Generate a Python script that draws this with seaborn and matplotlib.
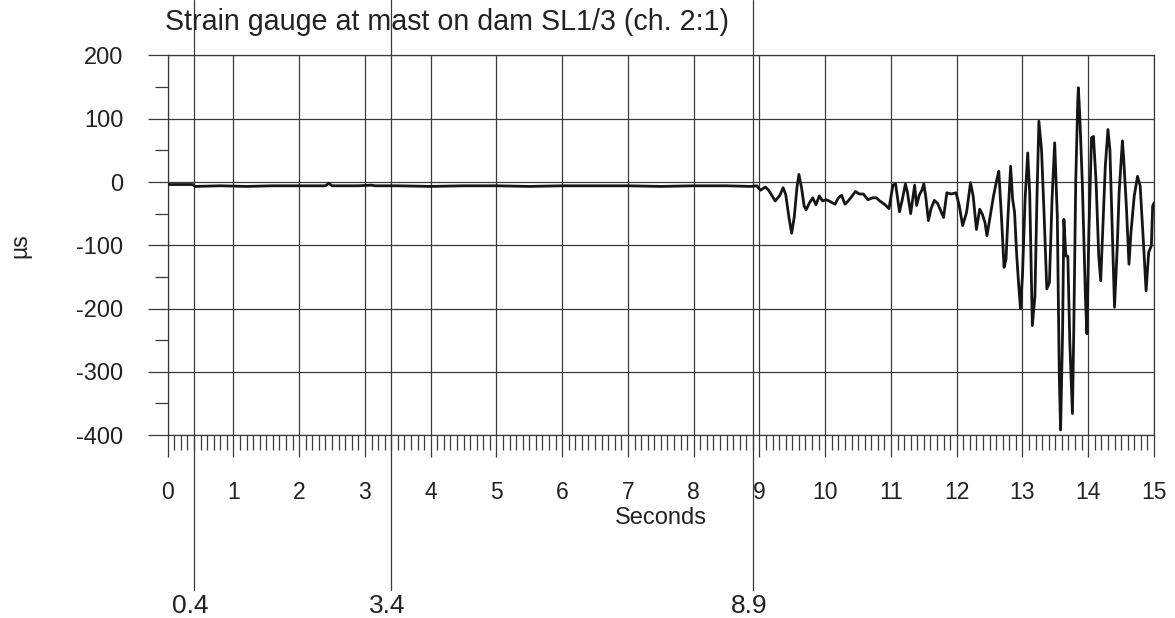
import numpy as np
import pandas as pd
import matplotlib
matplotlib.use("Agg")
import matplotlib.pyplot as plt
import seaborn as sns
from matplotlib.ticker import MultipleLocator
import matplotlib.transforms as mtransforms

# ---------------- data ----------------
title = "Strain gauge at mast on dam SL1/3 (ch. 2:1)"
x_label = "Seconds"
y_label = "µs"

x_ticks = list(range(0, 16))
y_ticks = [-400, -300, -200, -100, 0, 100, 200]

cursor_positions = [0.4, 3.4, 8.9]
cursor_labels = ["0.4", "3.4", "8.9"]

time_s = [
    0.0, 0.2, 0.38, 0.42, 0.8, 1.2, 1.6, 2.0, 2.4, 2.45, 2.5, 2.9, 3.1, 3.15,
    3.5, 4.0, 4.5, 5.0, 5.5, 6.0, 6.5, 7.0, 7.5, 8.0, 8.5, 8.87,
    8.96, 9.015, 9.09, 9.14, 9.24, 9.31, 9.36, 9.40, 9.45, 9.49, 9.53, 9.57,
    9.60, 9.64, 9.68, 9.71, 9.76, 9.81, 9.86, 9.91, 9.96, 10.01, 10.06, 10.11,
    10.15, 10.20, 10.25, 10.30, 10.35, 10.41, 10.46, 10.52, 10.58, 10.65, 10.72,
    10.78, 10.83, 10.91, 10.97,
    11.03, 11.07, 11.13, 11.17, 11.22, 11.25, 11.30, 11.36, 11.39, 11.43, 11.47,
    11.50, 11.53, 11.57, 11.61, 11.66, 11.71,
    11.80, 11.85, 11.92, 11.99, 12.04, 12.09, 12.15, 12.21, 12.25, 12.30, 12.35,
    12.39, 12.43, 12.46, 12.51, 12.56, 12.61, 12.64, 12.68, 12.72, 12.75, 12.78,
    12.82, 12.85, 12.88, 12.91, 12.94, 12.97, 13.00, 13.04, 13.08, 13.11, 13.15,
    13.19, 13.22, 13.25, 13.29, 13.33, 13.37, 13.41, 13.45, 13.49, 13.53, 13.56,
    13.58, 13.61, 13.63, 13.66, 13.69, 13.72, 13.76, 13.78, 13.81, 13.84, 13.85,
    13.87, 13.91, 13.96, 13.98, 14.01, 14.05, 14.08, 14.12, 14.16, 14.19, 14.22,
    14.26, 14.30, 14.33, 14.36, 14.40, 14.44, 14.47, 14.52, 14.54, 14.58, 14.62,
    14.65, 14.70, 14.75, 14.79, 14.84, 14.88, 14.92, 14.96, 14.98, 15.0,
]
strain_us = [
    -4, -4, -4, -7, -6, -7, -6, -6, -6, -2, -6, -6, -5, -6,
    -6, -7, -6, -6, -7, -6, -6, -6, -7, -6, -6, -7,
    -6, -13, -8, -13, -30, -21, -9, -20, -57, -81, -55, -9,
    12, -9, -38, -44, -33, -25, -36, -22, -30, -28, -30, -33,
    -35, -25, -21, -35, -30, -22, -15, -19, -19, -28, -25,
    -25, -30, -36, -42,
    -5, -3, -47, -29, -3, -16, -50, -5, -37, -21, -13,
    -3, -24, -61, -42, -29, -34,
    -56, -17, -19, -17, -38, -69, -48, -1, -22, -75, -43,
    -51, -64, -85, -54, -22, 4, 17, -54, -135, -122, -54,
    25, -27, -48, -111, -159, -200, -148, -27, 46, -17, -227,
    -180, -27, 96, 51, -54, -169, -159, -27, 62, -54, -306,
    -392, -237, -59, -117, -117, -253, -366, -237, -1, 125, 149,
    109, -1, -190, -240, -80, 70, 72, -1, -117, -156, -80,
    25, 83, 51, -54, -198, -106, -17, 65, 36, -38, -130,
    -80, -22, 9, -6, -96, -172, -111, -101, -38, -33,
]

df = pd.DataFrame({"t": time_s, "v": strain_us})

# ---------------- style ----------------
sns.set_theme(style="white")
plt.rcParams["font.family"] = ["Liberation Sans", "DejaVu Sans"]

grid_c = "#3a3a3a"
text_c = "#222222"

fig = plt.figure(figsize=(11.75, 6.18), dpi=100)
ax = fig.add_axes([0.1427, 0.2961, 0.8394, 0.6141])

sns.lineplot(data=df, x="t", y="v", color="#151515", linewidth=2.0,
             estimator=None, sort=False, ax=ax, zorder=3)

ax.set_xlim(0, 15)
ax.set_ylim(-400, 200)
ax.set_xticks(x_ticks)
ax.set_yticks(y_ticks)
ax.set_xticklabels([str(v) for v in x_ticks])
ax.set_yticklabels([str(v) for v in y_ticks])
ax.xaxis.set_minor_locator(MultipleLocator(0.1))
ax.yaxis.set_minor_locator(MultipleLocator(50))

ax.grid(True, which="major", color=grid_c, linewidth=0.9)
for s in ax.spines.values():
    s.set_visible(True)
    s.set_color(grid_c)
    s.set_linewidth(0.9)

ax.tick_params(axis="x", which="major", bottom=True, direction="out",
               length=15.8, width=0.9, color=grid_c, pad=17.5,
               labelsize=16.5, labelcolor=text_c)
ax.tick_params(axis="x", which="minor", bottom=True, direction="out",
               length=10.8, width=0.9, color=grid_c)
ax.tick_params(axis="y", which="major", left=True, direction="out",
               length=14.4, width=0.9, color=grid_c, pad=17.5,
               labelsize=17, labelcolor=text_c)
ax.tick_params(axis="y", which="minor", left=True, direction="out",
               length=9.4, width=0.9, color=grid_c)

ax.set_xlabel(x_label, fontsize=17, color=text_c)
ax.xaxis.set_label_coords(0.5, -0.19)
ax.set_ylabel(y_label, fontsize=16.5, color=text_c)
ax.yaxis.set_label_coords(-0.138, 0.5)

# cursor lines extending beyond the axes
trans = ax.get_xaxis_transform()
shift = mtransforms.ScaledTranslation(-4 / 100, 0, fig.dpi_scale_trans)
for pos, lab in zip(cursor_positions, cursor_labels):
    ax.axvline(pos, ymin=-0.408, ymax=1.146, color=grid_c, linewidth=0.9,
               clip_on=False, zorder=2)
    ax.text(pos, -0.470, lab, transform=trans + shift, ha="center",
            va="baseline", fontsize=19, color=text_c, clip_on=False)

fig.text(165 / 1175, 1 - 29.5 / 618, title, ha="left", va="baseline",
         fontsize=20.6, color=text_c)

fig.savefig("out.png", dpi=100, facecolor="white")
